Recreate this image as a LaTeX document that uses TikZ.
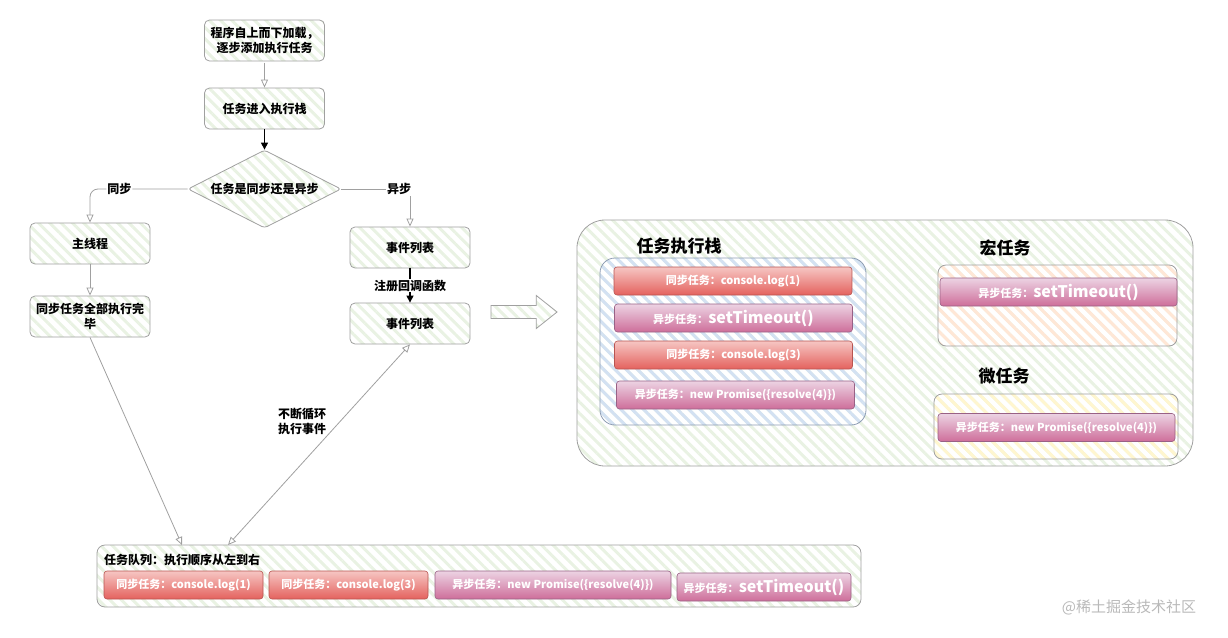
\documentclass[tikz,border=0pt]{standalone}
\usepackage{fontspec}
\setmainfont{Noto Sans CJK SC}
\usetikzlibrary{arrows.meta,positioning,shapes.geometric,shapes.arrows,patterns.meta}
\definecolor{linegray}{HTML}{A0A0A0}
\definecolor{stripegreen}{HTML}{E9F2E3}
\definecolor{stripeblue}{HTML}{D3E1F2}
\definecolor{stripepeach}{HTML}{FFE7D6}
\definecolor{stripeyellow}{HTML}{FFF6CF}
\definecolor{stackline}{HTML}{8E9DB3}
\definecolor{redtop}{HTML}{F6C6C3}
\definecolor{redbot}{HTML}{E4625E}
\definecolor{redline}{HTML}{B85450}
\definecolor{purtop}{HTML}{ECD3E3}
\definecolor{purbot}{HTML}{CE6E9A}
\definecolor{purline}{HTML}{996185}
\newcommand\bigfn{\fontsize{16}{18}\selectfont\bfseries}

\begin{document}
\begin{tikzpicture}[x=1pt,y=-1pt,
  fbox/.style={draw=linegray,line width=0.8pt,rounded corners=5pt,minimum width=120pt,minimum height=41pt,
    align=center,inner sep=2pt,pattern={Lines[angle=-45,distance=8pt,line width=3pt]},pattern color=stripegreen,
    font=\fontsize{12}{15}\selectfont\bfseries},
  lbl/.style={font=\fontsize{12}{15}\selectfont\bfseries,inner sep=1pt},
  title/.style={font=\fontsize{17}{20}\selectfont\bfseries},
  garrow/.style={draw=linegray,line width=0.8pt,-{Triangle[open,length=8pt,width=7pt]}},
  barrow/.style={draw=black,line width=1.2pt,-{Triangle[length=7pt,width=7pt]}},
  panel/.style={draw=linegray,line width=0.8pt,pattern={Lines[angle=-45,distance=8pt,line width=3pt]}},
  redtask/.style={draw=redline,line width=0.6pt,rounded corners=3pt,top color=redtop,bottom color=redbot,
    text=white,minimum height=28pt,inner sep=1pt,font=\fontsize{11}{13}\selectfont\bfseries},
  purtask/.style={redtask,draw=purline,top color=purtop,bottom color=purbot}]
\useasboundingbox (0,0) rectangle (1228,637);
% ---------- 左侧流程 ----------
\node[fbox] (load) at (264.5,40.5) {程序自上而下加载，\\逐步添加执行任务};
\node[fbox] (push) at (264.5,108.5) {任务进入执行栈};
\node[fbox,diamond,aspect=2,inner sep=0pt,minimum width=153pt,minimum height=78pt,rounded corners=3pt] (judge) at (264.5,189) {任务是同步还是异步};
\node[fbox] (mainthr) at (90,243.5) {主线程};
\node[fbox] (syncdone) at (90,316.5) {同步任务全部执行完\\毕};
\node[fbox] (evlist) at (410,247.5) {事件列表};
\node[fbox] (evreg) at (410,323.5) {事件列表};
\draw[garrow] (load) -- (push);
\draw[barrow] (push) -- (judge);
\draw[garrow,rounded corners=8pt] (judge.west) -| node[pos=0.35,lbl,fill=white] {同步} (mainthr.north);
\draw[garrow] (judge.east) -| node[pos=0.42,lbl,fill=white] {异步} (evlist.north);
\draw[garrow] (mainthr) -- (syncdone);
\draw[barrow] (evlist) -- node[lbl,fill=white] {注册回调函数} (evreg);
% ---------- 任务队列 ----------
\node[panel,pattern color=stripegreen,rounded corners=8pt,minimum width=764pt,minimum height=62pt] (queue) at (479,576) {};
\node[lbl,anchor=west] (queuelbl) at (103,560) {任务队列：执行顺序从左到右};
\node[redtask,minimum width=159pt] (q1) at (183.5,585) {同步任务：console.log(1)};
\node[redtask,minimum width=159pt] (q2) at (348.5,585) {同步任务：console.log(3)};
\node[purtask,minimum width=236pt] (q3) at (553,585) {异步任务：new Promise(\{resolve(4)\})};
\node[purtask,minimum width=174pt] (q4) at (764,587) {异步任务：{\bigfn setTimeout()}};
\coordinate (qin) at (182,545);
\coordinate (qout) at (228,545);
\draw[garrow] (syncdone.south) -- (qin);
\draw[garrow,{Triangle[open,length=8pt,width=7pt]}-{Triangle[open,length=8pt,width=7pt]}] (qout) -- (evreg.south);
\node[lbl,align=left] (looplbl) at (302,421) {不断循环\\执行事件};
% ---------- 右侧：执行栈 / 宏任务 / 微任务 ----------
\node[single arrow,draw=linegray,line width=0.8pt,inner sep=6pt,minimum height=66pt,minimum width=33pt,
  single arrow head extend=10pt,single arrow tip angle=77,
  pattern={Lines[angle=-45,distance=8pt,line width=3pt]},pattern color=stripegreen] (bigarrow) at (520,312) {};
\node[panel,pattern color=stripegreen,rounded corners=28pt,minimum width=616pt,minimum height=246pt] (runtime) at (885,343) {};
\node[title] (stacktitle) at (679,246) {任务执行栈};
\node[panel,draw=stackline,pattern color=stripeblue,rounded corners=15pt,minimum width=266pt,minimum height=167pt] (stackbox) at (733,341.5) {};
\node[redtask,minimum width=238pt] (s1) at (733,281) {同步任务：console.log(1)};
\node[purtask,minimum width=238pt] (s2) at (733.5,318) {异步任务：{\bigfn setTimeout()}};
\node[redtask,minimum width=238pt] (s3) at (733.5,355) {同步任务：console.log(3)};
\node[purtask,minimum width=238pt] (s4) at (735.5,395) {异步任务：new Promise(\{resolve(4)\})};
\node[title] (macrotitle) at (1005,248) {宏任务};
\node[panel,pattern color=stripepeach,rounded corners=8pt,minimum width=239pt,minimum height=81pt] (macrobox) at (1057.5,305.5) {};
\node[purtask,minimum width=237pt] (m1) at (1058.5,292) {异步任务：{\bigfn setTimeout()}};
\node[title] (microtitle) at (1004,376) {微任务};
\node[panel,pattern color=stripeyellow,rounded corners=8pt,minimum width=244pt,minimum height=65pt] (microbox) at (1056,426.5) {};
\node[purtask,minimum width=237pt] (u1) at (1056.5,427.5) {异步任务：new Promise(\{resolve(4)\})};
% 水印
\node[text=gray!55,font=\fontsize{15}{18}\selectfont] (mark) at (1129,607) {@稀土掘金技术社区};
\end{tikzpicture}
\end{document}
